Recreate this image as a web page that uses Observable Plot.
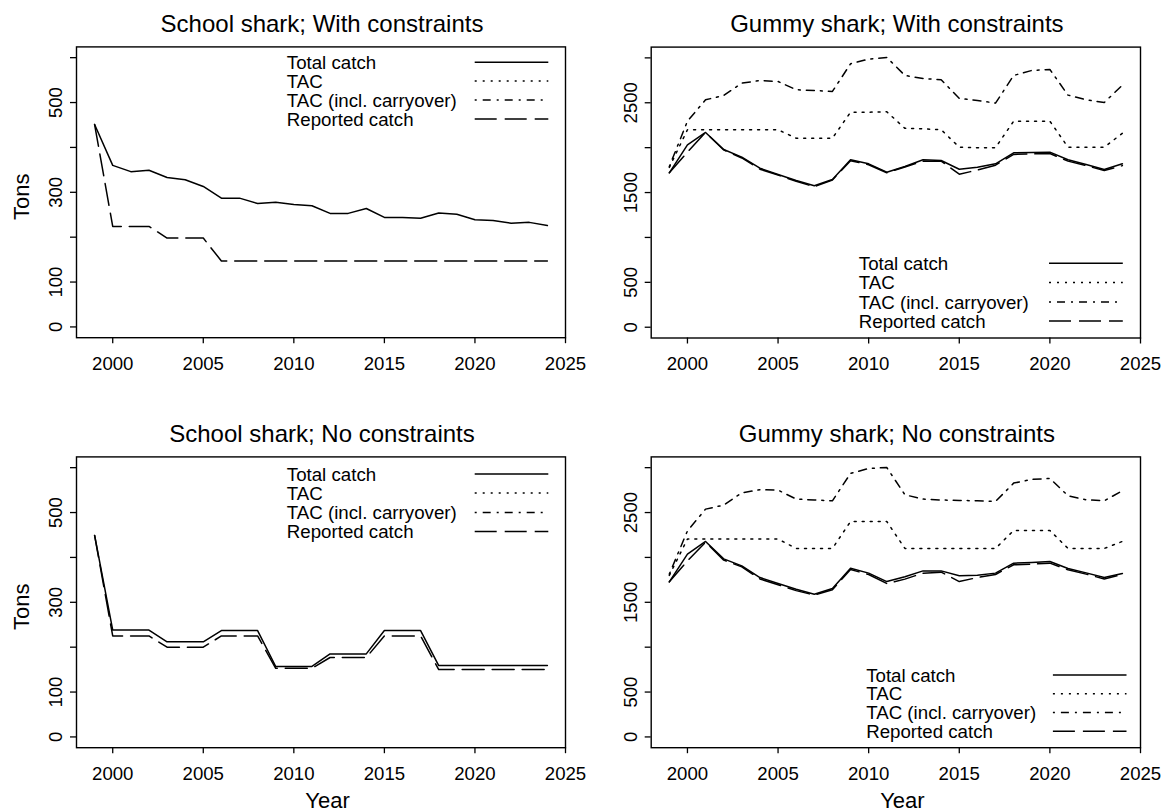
<!DOCTYPE html>
<html><head><meta charset="utf-8">
<script src="https://cdn.jsdelivr.net/npm/d3@7"></script>
<script src="https://cdn.jsdelivr.net/npm/@observablehq/plot@0.6"></script>
<style>
body{margin:0;background:#fff;}
#root{position:relative;width:1163px;height:812px;overflow:hidden;font-family:"Liberation Sans",Arial,Helvetica,sans-serif;background:#fff;}
.panel{position:absolute;}
.panel svg{overflow:visible;}
</style></head><body><div id="root"></div>
<script>
// ---------- data ----------
const years = [1999,2000,2001,2002,2003,2004,2005,2006,2007,2008,2009,2010,2011,2012,2013,2014,2015,2016,2017,2018,2019,2020,2021,2022,2023,2024];
const xTicks = [2000,2005,2010,2015,2020,2025];

const schoolYTicks = [0,100,200,300,400,500,600];
const schoolYLabels = [0,100,300,500];
const gummyYTicks = [0,500,1000,1500,2000,2500,3000];
const gummyYLabels = [0,500,1500,2500];

const seriesNames = ["Total catch","TAC","TAC (incl. carryover)","Reported catch"];

// School shark; With constraints
const schoolWithTotal    = [451,360,346,349,333,328,313,287,287,275,278,273,270,253,253,264,244,244,242,254,251,239,237,231,233,226];
const schoolWithReported = [451,224,224,224,198,198,198,147,147,147,147,147,147,147,147,147,147,147,147,147,147,147,147,147,147,147];

// School shark; No constraints
const schoolNoTotal    = [449,238,238,238,212,212,212,237,237,237,157,157,157,185,185,185,237,237,237,159,159,159,159,159,159,159];
const schoolNoReported = [449,225,225,225,200,200,200,225,225,225,153,153,153,177,177,177,225,225,225,150,150,150,150,150,150,150];

// Gummy shark; With constraints
const gummyWithTotal    = [1720,2032,2169,1980,1894,1771,1701,1634,1575,1645,1865,1820,1727,1790,1865,1857,1760,1782,1820,1943,1946,1950,1865,1813,1757,1820];
const gummyWithTAC      = [1780,2200,2200,2200,2200,2200,2200,2105,2105,2105,2395,2395,2400,2215,2210,2200,2005,2000,2000,2295,2295,2295,2005,2005,2005,2160];
const gummyWithCarry    = [1790,2295,2533,2581,2719,2748,2737,2645,2637,2626,2934,2986,3005,2804,2771,2756,2548,2526,2496,2804,2860,2871,2585,2533,2503,2696];
const gummyWithReported = [1720,1950,2169,1975,1885,1760,1695,1625,1565,1640,1855,1810,1720,1785,1850,1850,1705,1750,1805,1925,1930,1935,1850,1800,1745,1800];

// Gummy shark; No constraints
const gummyNoTotal    = [1728,2036,2178,1984,1906,1776,1709,1646,1590,1653,1880,1825,1731,1784,1850,1850,1795,1801,1825,1936,1944,1954,1876,1828,1776,1821];
const gummyNoTAC      = [1800,2205,2205,2205,2205,2205,2205,2100,2100,2100,2400,2400,2400,2100,2100,2100,2100,2100,2100,2300,2300,2300,2100,2100,2100,2178];
const gummyNoCarry    = [1814,2296,2538,2583,2720,2754,2750,2650,2640,2631,2936,2991,3002,2698,2650,2640,2635,2631,2623,2828,2869,2880,2687,2642,2631,2743];
const gummyNoReported = [1728,1962,2170,1970,1895,1760,1695,1630,1580,1640,1865,1810,1709,1758,1825,1836,1731,1776,1810,1918,1925,1936,1862,1814,1760,1810];

// ---------- styles ----------
const dashes = {"Total catch": null, "TAC": "2,6", "TAC (incl. carryover)": "2,6,8,6", "Reported catch": "22,8"};
const LW = 1.5;
const FONT = '"Liberation Sans", Arial, Helvetica, sans-serif';
const TICK_FS = 18.6, TITLE_FS = 24, LAB_FS = 22, LEG_FS = 18.7;

const root = document.getElementById("root");

function toRows(values) { return values.map((v, i) => ({year: years[i], value: v})); }

function panel(cfg) {
  const marks = [
    Plot.frame({stroke: "#000", strokeWidth: 1.4}),
    Plot.axisX({ticks: xTicks, tickFormat: d => String(d), label: null, tickSize: 6, tickPadding: 12.8, fontSize: TICK_FS, strokeWidth: 1.3}),
    Plot.axisY({ticks: cfg.yTicks, tickFormat: d => cfg.yLabels.includes(d) ? String(d) : "", label: null, tickSize: 6, tickPadding: 8.3,
                tickRotate: -90, textAnchor: "middle", lineAnchor: "bottom", fontSize: TICK_FS, strokeWidth: 1.3}),
  ];
  for (const s of cfg.series) {
    marks.push(Plot.line(toRows(s.values), {x: "year", y: "value", stroke: "#000", strokeWidth: LW,
      strokeDasharray: dashes[s.name] || undefined, strokeLinejoin: "round"}));
  }
  marks.push(Plot.text([cfg.title], {text: d => d, frameAnchor: "top", dy: -15, dx: 1, lineAnchor: "bottom", fontSize: TITLE_FS, fill: "#000"}));
  if (cfg.tons) marks.push(Plot.text(["Tons"], {text: d => d, frameAnchor: "left", rotate: -90, dx: -47.7, dy: 4.5, lineAnchor: "bottom", textAnchor: "middle", fontSize: LAB_FS, fill: "#000"}));
  if (cfg.year) marks.push(Plot.text(["Year"], {text: d => d, frameAnchor: "bottom", dy: 60.5, dx: 6.5, lineAnchor: "bottom", fontSize: LAB_FS, fill: "#000"}));

  const p = Plot.plot({
    width: cfg.width, height: cfg.height,
    marginLeft: cfg.mL, marginRight: cfg.mR, marginTop: cfg.mT, marginBottom: cfg.mB,
    x: {domain: [1998, 2025]},
    y: {domain: cfg.yDomain},
    style: {fontFamily: FONT, color: "#000", background: "transparent", overflow: "visible"},
    marks
  });
  const div = document.createElement("div");
  div.className = "panel";
  div.style.left = cfg.left + "px";
  div.style.top = cfg.top + "px";
  div.appendChild(p);
  root.appendChild(div);
}

panel({title: "School shark; With constraints", left: 0, top: 0, width: 581, height: 400, mL: 76, mR: 16, mT: 46.4, mB: 62.8,
  yDomain: [-24, 624], yTicks: schoolYTicks, yLabels: schoolYLabels, tons: true,
  series: [{name: "Total catch", values: schoolWithTotal}, {name: "Reported catch", values: schoolWithReported}]});
panel({title: "Gummy shark; With constraints", left: 581, top: 0, width: 582, height: 400, mL: 69.7, mR: 23, mT: 46.6, mB: 62.5,
  yDomain: [-120, 3120], yTicks: gummyYTicks, yLabels: gummyYLabels,
  series: [{name: "Total catch", values: gummyWithTotal}, {name: "TAC", values: gummyWithTAC},
           {name: "TAC (incl. carryover)", values: gummyWithCarry}, {name: "Reported catch", values: gummyWithReported}]});
panel({title: "School shark; No constraints", left: 0, top: 400, width: 581, height: 412, mL: 76, mR: 16, mT: 56.4, mB: 64.8,
  yDomain: [-24, 624], yTicks: schoolYTicks, yLabels: schoolYLabels, tons: true, year: true,
  series: [{name: "Total catch", values: schoolNoTotal}, {name: "Reported catch", values: schoolNoReported}]});
panel({title: "Gummy shark; No constraints", left: 581, top: 400, width: 582, height: 412, mL: 69.7, mR: 23, mT: 56.4, mB: 64.8,
  yDomain: [-120, 3120], yTicks: gummyYTicks, yLabels: gummyYLabels, year: true,
  series: [{name: "Total catch", values: gummyNoTotal}, {name: "TAC", values: gummyNoTAC},
           {name: "TAC (incl. carryover)", values: gummyNoCarry}, {name: "Reported catch", values: gummyNoReported}]});

// ---------- legends (overlay) ----------
const legendBoxes = [
  {textX: 286.8, rows: [62.3, 80.9, 99.9, 118.9], x1: 474.7, x2: 548.3},
  {textX: 858.8, rows: [263.3, 282.5, 302.0, 321.0], x1: 1049, x2: 1122.8},
  {textX: 286.8, rows: [474.0, 493.1, 512.5, 531.5], x1: 474.7, x2: 548.3},
  {textX: 866.2, rows: [675.0, 693.7, 712.5, 731.2], x1: 1052.9, x2: 1126.5},
];
const overlay = d3.create("svg").attr("width", 1163).attr("height", 812)
  .style("position", "absolute").style("left", "0px").style("top", "0px").style("pointer-events", "none");
for (const lb of legendBoxes) {
  seriesNames.forEach((name, i) => {
    const cy = lb.rows[i];
    overlay.append("text").attr("x", lb.textX).attr("y", cy + 0.358 * LEG_FS)
      .attr("font-family", FONT).attr("font-size", LEG_FS).attr("fill", "#000").text(name);
    const ln = overlay.append("line").attr("x1", lb.x1).attr("x2", lb.x2).attr("y1", cy).attr("y2", cy)
      .attr("stroke", "#000").attr("stroke-width", LW);
    if (dashes[name]) ln.attr("stroke-dasharray", dashes[name]);
  });
}
root.appendChild(overlay.node());
</script>
</body></html>
